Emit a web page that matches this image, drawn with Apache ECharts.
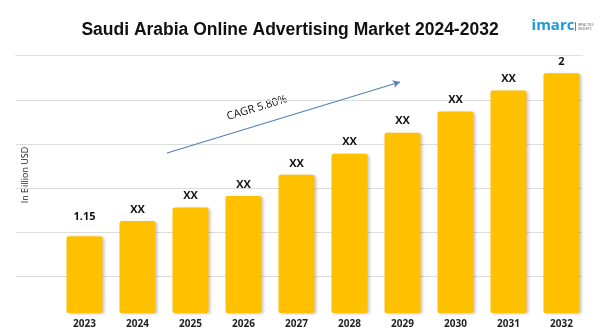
<!DOCTYPE html>
<html>
<head>
<meta charset="utf-8">
<style>
  html, body { margin: 0; padding: 0; background: #ffffff; }
  #chart { width: 600px; height: 334px; }
</style>
<script src="https://cdn.jsdelivr.net/npm/echarts@6/dist/echarts.min.js"></script>
</head>
<body>
<div id="chart"></div>
<script>
// Market size by year (billion USD); only the end points are published
const years = ['2023', '2024', '2025', '2026', '2027', '2028', '2029', '2030', '2031', '2032'];
const marketSize = [1.15, 1.23, 1.30, 1.36, 1.47, 1.58, 1.69, 1.80, 1.91, 2];
const valueLabels = ['1.15', 'XX', 'XX', 'XX', 'XX', 'XX', 'XX', 'XX', 'XX', '2'];
const gridTicks = [1, 2, 3, 4, 5];

const chart = echarts.init(document.getElementById('chart'), null, { renderer: 'canvas' });

const barData = marketSize.map((v, i) => ({
  value: v,
  label: {
    formatter: valueLabels[i],
    distance: i === 0 ? 14 : 6
  }
}));

chart.setOption({
  backgroundColor: '#ffffff',
  animation: false,
  title: {
    text: 'Saudi Arabia Online Advertising Market 2024-2032',
    left: 285,
    top: 16,
    textAlign: 'center',
    textStyle: {
      fontFamily: 'Liberation Sans',
      fontWeight: 'bold',
      fontSize: 17.5,
      color: '#111111'
    }
  },
  grid: [
    // value grid for the bars
    { left: 58, right: 12, top: 54, bottom: 21 },
    // background guide lines
    { left: 16, right: 18, top: 100, bottom: 58 }
  ],
  xAxis: [
    {
      gridIndex: 0,
      type: 'category',
      data: years,
      axisLine: { show: false },
      axisTick: { show: false },
      axisLabel: {
        margin: 6,
        fontFamily: 'Open Sans',
        fontWeight: 'bold',
        fontSize: 10,
        color: '#222222'
      }
    },
    {
      gridIndex: 1,
      type: 'value',
      min: 0,
      max: 1,
      show: false
    }
  ],
  yAxis: [
    {
      gridIndex: 0,
      type: 'value',
      min: 0.75,
      max: 2.1,
      axisLine: { show: false },
      axisTick: { show: false },
      axisLabel: { show: false },
      splitLine: { show: false }
    },
    {
      gridIndex: 1,
      type: 'value',
      min: gridTicks[0],
      max: gridTicks[gridTicks.length - 1],
      interval: 1,
      axisLine: { show: false },
      axisTick: { show: false },
      axisLabel: { show: false },
      splitLine: { show: true, lineStyle: { color: '#dcdcdc', width: 1 } }
    }
  ],
  series: [
    {
      type: 'bar',
      xAxisIndex: 0,
      yAxisIndex: 0,
      data: barData,
      barWidth: 36,
      itemStyle: {
        color: '#FFC000',
        borderRadius: 2,
        shadowColor: 'rgba(0,0,0,0.22)',
        shadowBlur: 3,
        shadowOffsetX: 2,
        shadowOffsetY: 1
      },
      label: {
        show: true,
        position: 'top',
        fontFamily: 'Open Sans',
        fontWeight: 'bold',
        fontSize: 11,
        color: '#111111'
      },
      markLine: {
        silent: true,
        symbol: ['none', 'arrow'],
        symbolSize: [6, 7],
        label: { show: false },
        lineStyle: { color: '#4f81bd', width: 1.2, type: 'solid' },
        data: [[{ x: 167, y: 153 }, { x: 400, y: 82 }]]
      }
    }
  ],
  graphic: [
    // header separator
    {
      type: 'line',
      shape: { x1: 15, y1: 55.5, x2: 583, y2: 55.5 },
      style: { stroke: '#e2e2e2', lineWidth: 1 }
    },
    // growth annotation
    {
      type: 'text',
      x: 257,
      y: 108,
      rotation: 0.293,
      style: {
        text: 'CAGR 5.80%',
        fontFamily: 'Open Sans',
        fontSize: 11,
        fill: '#111111',
        align: 'center',
        verticalAlign: 'middle'
      }
    },
    // vertical unit caption
    {
      type: 'text',
      x: 25,
      y: 175,
      rotation: Math.PI / 2,
      style: {
        text: 'In Billion USD',
        fontFamily: 'Open Sans',
        fontSize: 9,
        fill: '#222222',
        align: 'center',
        verticalAlign: 'middle'
      }
    },
    // brand mark
    {
      type: 'text',
      x: 553,
      y: 26,
      style: {
        text: 'imarc',
        fontFamily: 'Open Sans',
        fontWeight: 'bold',
        fontSize: 15,
        fill: '#1c9ad6',
        align: 'center',
        verticalAlign: 'middle'
      }
    },
    {
      type: 'line',
      shape: { x1: 575.5, y1: 22, x2: 575.5, y2: 31 },
      style: { stroke: '#1c9ad6', lineWidth: 1 }
    },
    {
      type: 'text',
      x: 578,
      y: 27,
      style: {
        text: 'IMPACTFUL\nINSIGHTS',
        fontFamily: 'Open Sans',
        fontSize: 3,
        lineHeight: 4,
        fill: '#555555',
        align: 'left',
        verticalAlign: 'middle'
      }
    }
  ]
});
</script>
</body>
</html>
